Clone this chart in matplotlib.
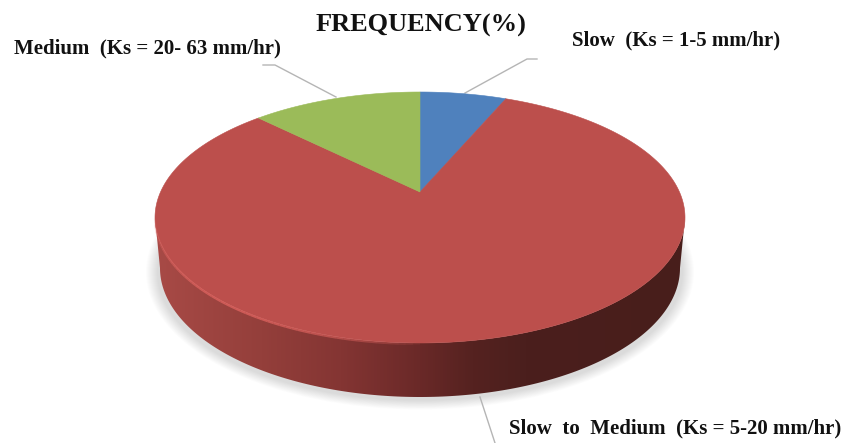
import numpy as np
import matplotlib
matplotlib.use('Agg')
import matplotlib.pyplot as plt
from matplotlib.colors import LinearSegmentedColormap
from matplotlib.patches import Ellipse, PathPatch
from matplotlib.path import Path

# values, clockwise from 12 o'clock
labels = ['Slow (Ks = 1-5 mm/hr)', 'Slow to Medium (Ks = 5-20 mm/hr)', 'Medium (Ks = 20- 63 mm/hr)']
frequency = [6, 82, 12]
colors = ['#4f81bd', '#bc4f4c', '#9bbb59']

plt.rcParams['font.family'] = ['Liberation Serif', 'DejaVu Serif']

fig = plt.figure(figsize=(8.42, 4.43), dpi=100)
ax = fig.add_axes([0, 0, 1, 1])
ax.set_xlim(0, 842)
ax.set_ylim(443, 0)
ax.axis('off')

# top face ellipse and where the wedges meet (tilted view, so off centre)
cx, cy, rx, ry = 420, 217.5, 265, 125.5
ax0, ay0 = 420, 192
squash = 0.43


def rim_point(angle):
    # send a ray from the apex out to the ellipse
    dx = np.sin(angle)
    dy = -np.cos(angle) * squash
    a = (dx / rx) ** 2 + (dy / ry) ** 2
    b = 2 * ((ax0 - cx) * dx / rx ** 2 + (ay0 - cy) * dy / ry ** 2)
    c = ((ax0 - cx) / rx) ** 2 + ((ay0 - cy) / ry) ** 2 - 1
    t = (-b + np.sqrt(b ** 2 - 4 * a * c)) / (2 * a)
    return ax0 + t * dx, ay0 + t * dy


# soft shadow under the pie, many faint layers so it has no hard ring
for grow in np.arange(1, 13):
    ax.add_patch(Ellipse((cx, 272), 2 * (262 + grow), 2 * (128 + grow * 0.8), fc='black', ec='none', alpha=0.012, zorder=1))

# side wall: band between the top ellipse and the lower one, horizontal shading
t = np.linspace(0, np.pi, 200)
low_x = cx + 260 * np.cos(t)
low_y = 268 + 129 * np.sin(t)
top_x = cx + rx * np.cos(t[::-1])
top_y = cy + ry * np.sin(t[::-1])
band = np.column_stack([np.r_[low_x, top_x], np.r_[low_y, top_y]])
band_patch = PathPatch(Path(np.r_[band, band[:1]], closed=True), fc='none', ec='none', zorder=2)
ax.add_patch(band_patch)
side_cmap = LinearSegmentedColormap.from_list('side', [
    (0.0, '#a84a46'), (0.2, '#943f3b'), (0.35, '#843533'), (0.5, '#6a2928'),
    (0.6, '#552220'), (0.7, '#4b1f1d'), (1.0, '#481e1b')])
img = ax.imshow(np.linspace(0, 1, 256)[None, :], extent=(155, 685, 443, 0), cmap=side_cmap,
                aspect='auto', zorder=2)
img.set_clip_path(band_patch)
ax.set_xlim(0, 842)
ax.set_ylim(443, 0)

# top face
start = 0.0
total = sum(frequency)
for value, color in zip(frequency, colors):
    angles = np.linspace(start, start + value / total * 2 * np.pi, 300)
    pts = [rim_point(a) for a in angles]
    xs = [ax0] + [p[0] for p in pts]
    ys = [ay0] + [p[1] for p in pts]
    ax.fill(xs, ys, fc=color, ec=color, lw=0.4, zorder=3)
    start += value / total * 2 * np.pi

# lighter rim on the lower left edge, fades out towards both ends
rim_t = np.linspace(np.pi * 0.5, np.pi, 60)
rim_x = cx + rx * np.cos(rim_t)
rim_y = cy + ry * np.sin(rim_t) + 1
for i in range(len(rim_t) - 1):
    fade = np.sin((i + 0.5) / (len(rim_t) - 1) * np.pi) ** 0.7
    ax.plot(rim_x[i:i + 2], rim_y[i:i + 2], color='#dc625e', lw=1.6, alpha=0.8 * fade,
            solid_capstyle='butt', zorder=4)

# leader lines
leader = '#b5b5b5'
ax.plot([263, 275, 336], [65, 65, 97], color=leader, lw=1, zorder=2)
ax.plot([537, 527, 465], [59, 59, 93], color=leader, lw=1, zorder=2)
ax.plot([480, 495], [397, 443], color=leader, lw=1, zorder=2)

# text
ax.text(421, 25, 'FREQUENCY(%)', ha='center', va='center', fontsize=19, fontweight='bold', color='#111111')
ax.text(676, 40, labels[0].replace(' (', '  ('), ha='center', va='center', fontsize=15, fontweight='bold', color='#111111')
ax.text(675, 428, labels[1].replace(' to ', '  to  ').replace(' (', '  ('), ha='center', va='center', fontsize=15, fontweight='bold', color='#111111')
ax.text(147, 48, labels[2].replace(' (', '  ('), ha='center', va='center', fontsize=15, fontweight='bold', color='#111111')

fig.savefig('out.png', dpi=100)
